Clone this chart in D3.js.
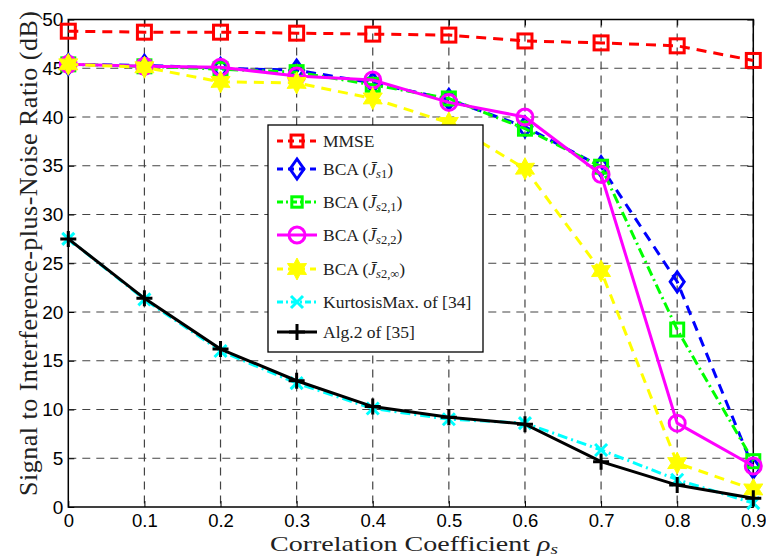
<!DOCTYPE html>
<html><head><meta charset="utf-8">
<script src="https://cdn.jsdelivr.net/npm/d3@7"></script>
<style>body{margin:0;background:#fff}svg{display:block}</style>
</head><body><svg id="c" width="766" height="557"></svg>
<script>
const rho = [0,0.1,0.2,0.3,0.4,0.5,0.6,0.7,0.8,0.9];
const mmse = [48.8,48.7,48.7,48.6,48.5,48.4,47.8,47.6,47.3,45.8];
const bcaS1 = [45.4,45.3,45.0,44.8,43.5,41.8,39.0,34.9,23.1,4.0];
const bcaS21 = [45.4,45.2,44.9,44.6,43.3,41.9,38.8,34.9,18.2,4.7];
const bcaS22 = [45.4,45.2,45.1,44.2,43.8,41.5,40.0,34.1,8.6,4.2];
const bcaSinf = [45.4,45.1,43.6,43.5,41.9,39.4,34.7,24.2,4.5,1.8];
const kurt = [27.5,21.3,16.0,12.7,10.1,9.0,8.6,5.85,2.8,0.4];
const alg2 = [27.5,21.4,16.2,12.95,10.3,9.2,8.5,4.65,2.25,0.9];
const xTicks = [0,0.1,0.2,0.3,0.4,0.5,0.6,0.7,0.8,0.9];
const xTickLabels = ["0","0.1","0.2","0.3","0.4","0.5","0.6","0.7","0.8","0.9"];
const yTicks = [0,5,10,15,20,25,30,35,40,45,50];

const svg = d3.select("#c");
const L=68.3, R=753.3, T=19.5, B=507;
const x = d3.scaleLinear().domain([0,0.9]).range([L,R]);
const y = d3.scaleLinear().domain([0,50]).range([B,T]);

// grid
const g = svg.append("g");
g.selectAll(".gx").data(xTicks.slice(1)).enter().append("line")
 .attr("x1",d=>x(d)).attr("x2",d=>x(d)).attr("y1",T).attr("y2",B)
 .attr("stroke","#444").attr("stroke-width",1.2).attr("stroke-dasharray","8,6");
g.selectAll(".gy").data(yTicks.slice(1,-1)).enter().append("line")
 .attr("y1",d=>y(d)).attr("y2",d=>y(d)).attr("x1",L).attr("x2",R)
 .attr("stroke","#444").attr("stroke-width",1.2).attr("stroke-dasharray","8,6");

// axes
const tickFont = "'Liberation Sans', Arial, sans-serif";
svg.append("g").attr("class","xax").attr("transform",`translate(0,${B})`)
 .call(d3.axisBottom(x).tickValues(xTicks).tickFormat((d,i)=>xTickLabels[i]).tickSizeInner(-6).tickSizeOuter(0).tickPadding(7));
svg.append("g").attr("transform",`translate(${L},0)`)
 .call(d3.axisLeft(y).tickValues(yTicks).tickSizeInner(-6).tickSizeOuter(0).tickPadding(5));
svg.append("g").attr("transform",`translate(0,${T})`)
 .call(d3.axisTop(x).tickValues(xTicks).tickFormat("").tickSizeInner(-6).tickSizeOuter(0));
svg.append("g").attr("transform",`translate(${R},0)`)
 .call(d3.axisRight(y).tickValues(yTicks).tickFormat("").tickSizeInner(-6).tickSizeOuter(0));
svg.selectAll(".domain").remove();
svg.selectAll(".tick line").attr("stroke","#000").attr("stroke-width",1);
svg.selectAll(".tick text").attr("font-family",tickFont).attr("font-size",19).attr("fill","#000");
svg.selectAll(".xax .tick text").attr("font-size",18.5);
svg.append("rect").attr("x",L).attr("y",T).attr("width",R-L).attr("height",B-T)
 .attr("fill","none").attr("stroke","#000").attr("stroke-width",1.5);

// axis titles
const serif = "'Liberation Serif','DejaVu Serif',serif";
const xt = svg.append("text").attr("x",270).attr("y",550.5)
 .attr("font-family",serif).attr("font-size",22).attr("fill","#222")
 .attr("textLength",288).attr("lengthAdjust","spacingAndGlyphs");
xt.append("tspan").text("Correlation Coefficient ");
xt.append("tspan").attr("font-style","italic").text("ρ");
xt.append("tspan").attr("font-style","italic").attr("font-size",15).attr("dy",3).text("s");
svg.append("text").attr("transform",`translate(37,${(T+B)/2-10}) rotate(-90)`).attr("text-anchor","middle")
 .attr("font-family",serif).attr("font-size",26).attr("letter-spacing",0.5).attr("fill","#222")
 .text("Signal to Interference-plus-Noise Ratio (dB)");

// markers
function marker(sel, type, color, sc){
  sc = sc||1;
  if(type==="square") sel.append("rect").attr("x",-7*sc).attr("y",-7*sc).attr("width",14*sc).attr("height",14*sc)
     .attr("fill","none").attr("stroke",color).attr("stroke-width",3);
  if(type==="sqsmall") sel.append("rect").attr("x",-6.5*sc).attr("y",-6.5*sc).attr("width",13*sc).attr("height",13*sc)
     .attr("fill","none").attr("stroke",color).attr("stroke-width",3);
  if(type==="diamond") sel.append("path").attr("d",`M0,${-10*sc}L${7*sc},0L0,${10*sc}L${-7*sc},0Z`)
     .attr("fill","none").attr("stroke",color).attr("stroke-width",3);
  if(type==="circle") sel.append("circle").attr("r",8*sc)
     .attr("fill","none").attr("stroke",color).attr("stroke-width",3);
  if(type==="star"){
     const pts=[]; for(let k=0;k<12;k++){const r=(k%2?6:11)*sc;const a=-Math.PI/2+k*Math.PI/6;pts.push([r*Math.cos(a),r*Math.sin(a)]);}
     sel.append("path").attr("d","M"+pts.map(p=>p.join(",")).join("L")+"Z").attr("fill",color).attr("stroke",color).attr("stroke-width",1);
  }
  if(type==="x") sel.append("path").attr("d",`M${-6*sc},${-6*sc}L${6*sc},${6*sc}M${-6*sc},${6*sc}L${6*sc},${-6*sc}`).attr("stroke",color).attr("stroke-width",3);
  if(type==="plus") sel.append("path").attr("d",`M${-8*sc},0L${8*sc},0M0,${-8*sc}L0,${8*sc}`).attr("stroke",color).attr("stroke-width",3);
}

const series = [
 {name:"MMSE", data:mmse, color:"#ff0000", dash:"10,7", mk:"square"},
 {name:"s1", data:bcaS1, color:"#0000ff", dash:"10,7", mk:"diamond"},
 {name:"s21", data:bcaS21, color:"#00ff00", dash:"10,4,2,4", mk:"sqsmall"},
 {name:"s22", data:bcaS22, color:"#ff00ff", dash:null, mk:"circle"},
 {name:"sinf", data:bcaSinf, color:"#ffff00", dash:"10,7", mk:"star"},
 {name:"kurt", data:kurt, color:"#00ffff", dash:"10,4,2,4", mk:"x"},
 {name:"alg2", data:alg2, color:"#000000", dash:null, mk:"plus"}
];
const line = d3.line().x((d,i)=>x(rho[i])).y(d=>y(d));
series.forEach(s=>{
  const p = svg.append("path").datum(s.data).attr("d",line).attr("fill","none")
    .attr("stroke",s.color).attr("stroke-width",3);
  if(s.dash) p.attr("stroke-dasharray",s.dash);
  s.data.forEach((v,i)=>{
    const m = svg.append("g").attr("transform",`translate(${x(rho[i])},${y(v)})`);
    marker(m,s.mk,s.color);
  });
});

// legend
const lg = svg.append("g");
lg.append("rect").attr("x",268).attr("y",125).attr("width",215).attr("height",227)
  .attr("fill","#fff").attr("stroke","#000").attr("stroke-width",1.3);
const labels = [
 [{t:"MMSE"}],
 [{t:"BCA ("},{t:"J\u0304",i:1},{t:"s",i:1,sub:1},{t:"1",sub:1},{t:")"}],
 [{t:"BCA ("},{t:"J\u0304",i:1},{t:"s",i:1,sub:1},{t:"2,1",sub:1},{t:")"}],
 [{t:"BCA ("},{t:"J\u0304",i:1},{t:"s",i:1,sub:1},{t:"2,2",sub:1},{t:")"}],
 [{t:"BCA ("},{t:"J\u0304",i:1},{t:"s",i:1,sub:1},{t:"2,∞",sub:1},{t:")"}],
 [{t:"KurtosisMax. of [34]"}],
 [{t:"Alg.2 of [35]"}]
];
const ly = [141,169,202,235,269,302,332];
const lsc = [0.85,1,0.8,1,1,1,1];
series.forEach((s,k)=>{
  const yy = ly[k];
  const l = lg.append("line").attr("x1",277).attr("x2",317).attr("y1",yy).attr("y2",yy)
   .attr("stroke",s.color).attr("stroke-width",3);
  if(s.dash) l.attr("stroke-dasharray",s.dash==="10,7"?"6,5":"6,3,2,3");
  marker(lg.append("g").attr("transform",`translate(297,${yy})`),s.mk,s.color,lsc[k]);
  const t = lg.append("text").attr("x",323).attr("y",yy+5.5).attr("font-family",serif)
    .attr("font-size",17.5).attr("fill","#222");
  let sub=false;
  labels[k].forEach(p=>{
    const ts = t.append("tspan").text(p.t);
    if(p.i) ts.attr("font-style","italic");
    if(p.sub && !sub){ts.attr("dy",3.5).attr("font-size",12.5); sub=true;}
    else if(p.sub){ts.attr("font-size",12.5);}
    else if(!p.sub && sub){ts.attr("dy",-3.5); sub=false;}
  });
});
</script></body></html>
